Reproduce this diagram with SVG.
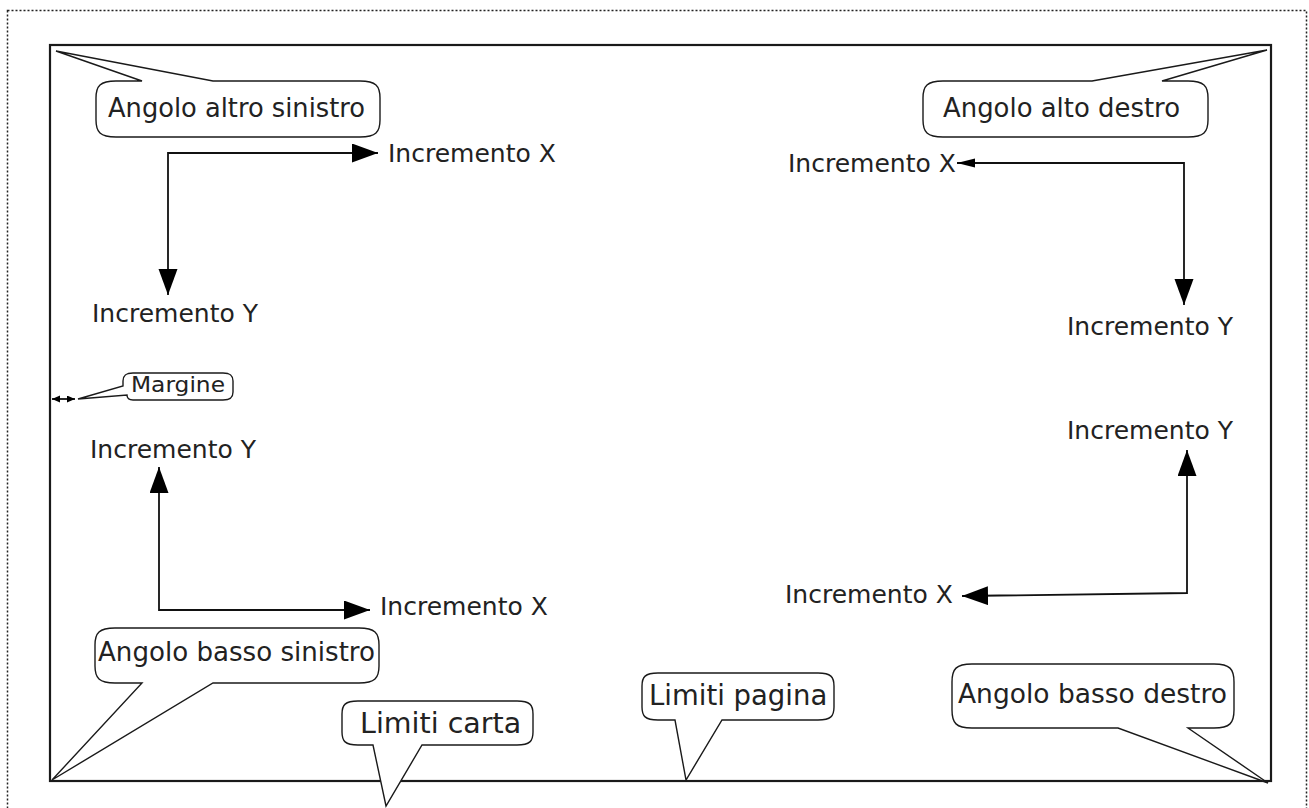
<svg xmlns="http://www.w3.org/2000/svg" width="1309" height="808" viewBox="0 0 1309 808">
  <style>
    .lbl { font-family: "DejaVu Sans", "Liberation Sans", sans-serif; fill: #222; }
    .inc { font-size: 25px; }
    .bub { fill: #fff; stroke: #1a1a1a; stroke-width: 1.4; stroke-linejoin: miter; }
    .con { fill: none; stroke: #111; stroke-width: 1.8; }
  </style>
  <defs>
    <marker id="big" markerUnits="userSpaceOnUse" markerWidth="27" markerHeight="20" refX="26" refY="9.5" orient="auto-start-reverse" viewBox="0 0 27 20">
      <path d="M0,0 L26,9.5 L0,19 Z" fill="#000"/>
    </marker>
    <marker id="small" markerUnits="userSpaceOnUse" markerWidth="19" markerHeight="10" refX="18" refY="4.5" orient="auto-start-reverse" viewBox="0 0 19 10">
      <path d="M0,0 L18,4.5 L0,9 Z" fill="#000"/>
    </marker>
    <marker id="tiny" markerUnits="userSpaceOnUse" markerWidth="9" markerHeight="8" refX="8" refY="3.5" orient="auto-start-reverse" viewBox="0 0 9 8">
      <path d="M0,0 L8,3.5 L0,7 Z" fill="#000"/>
    </marker>
  </defs>

  <rect x="0" y="0" width="1309" height="808" fill="#fff"/>

  <!-- paper limits (dotted) -->
  <rect id="paper" x="7.5" y="10.5" width="1299" height="820" fill="none" stroke="#222" stroke-width="1.5" stroke-dasharray="2,2"/>

  <!-- page limits -->
  <rect id="page" x="50" y="45" width="1221" height="736" fill="none" stroke="#1a1a1a" stroke-width="2.2"/>

  <!-- connectors -->
  <g id="connectors">
    <path class="con" d="M168,295 V153 H378" marker-start="url(#big)" marker-end="url(#big)"/>
    <path class="con" d="M957,163 H1184 V305" marker-start="url(#small)" marker-end="url(#big)"/>
    <path class="con" d="M159,467 V610 H370" marker-start="url(#big)" marker-end="url(#big)"/>
    <path class="con" d="M1187,450 V593 L962,596" marker-start="url(#big)" marker-end="url(#big)"/>
    <path class="con" d="M52,399 H75" stroke-width="1.4" marker-start="url(#tiny)" marker-end="url(#tiny)"/>
  </g>

  <!-- increment labels -->
  <g id="labels">
    <text class="lbl inc" x="388" y="162">Incremento X</text>
    <text class="lbl inc" x="92" y="322">Incremento Y</text>
    <text class="lbl inc" x="788" y="172">Incremento X</text>
    <text class="lbl inc" x="1067" y="335">Incremento Y</text>
    <text class="lbl inc" x="90" y="458">Incremento Y</text>
    <text class="lbl inc" x="380" y="615">Incremento X</text>
    <text class="lbl inc" x="1067" y="439">Incremento Y</text>
    <text class="lbl inc" x="785" y="603">Incremento X</text>
  </g>

  <!-- callouts -->
  <g id="callout-top-left">
    <path class="bub" d="M116,81 H142 L56,51 L213,81 H360 C376,81 380,86 380,98 V120 C380,132 376,137 360,137 H116 C100,137 96,132 96,120 V98 C96,86 100,81 116,81 Z"/>
    <text class="lbl" x="108" y="117" font-size="26" textLength="257" lengthAdjust="spacingAndGlyphs">Angolo altro sinistro</text>
  </g>

  <g id="callout-top-right">
    <path class="bub" d="M943,81 H1092 L1267,50 L1162,81 H1188 C1204,81 1208,86 1208,98 V120 C1208,132 1204,137 1188,137 H943 C927,137 923,132 923,120 V98 C923,86 927,81 943,81 Z"/>
    <text class="lbl" x="943" y="117" font-size="26" textLength="237" lengthAdjust="spacingAndGlyphs">Angolo alto destro</text>
  </g>

  <g id="callout-margin">
    <path class="bub" d="M133,373 H223 C231,373 233,376 233,381 V392 C233,397 231,400 223,400 H133 C128,400 127,398 127,395 L78,399 L123,386 V381 C123,376 125,373 133,373 Z"/>
    <text class="lbl" x="131" y="392" font-size="22" textLength="94" lengthAdjust="spacingAndGlyphs">Margine</text>
  </g>

  <g id="callout-bottom-left">
    <path class="bub" d="M115,628 H359 C375,628 379,633 379,645 V666 C379,678 375,683 359,683 H213 L52,780 L142,683 H115 C99,683 95,678 95,666 V645 C95,633 99,628 115,628 Z"/>
    <text class="lbl" x="98" y="661" font-size="26" textLength="277" lengthAdjust="spacingAndGlyphs">Angolo basso sinistro</text>
  </g>

  <g id="callout-limiti-carta">
    <path class="bub" d="M358,701 H517 C530,701 533,705 533,714 V732 C533,741 530,745 517,745 H422 L386,806 L373,745 H358 C345,745 342,741 342,732 V714 C342,705 345,701 358,701 Z"/>
    <text class="lbl" x="360" y="733" font-size="28.5">Limiti carta</text>
  </g>

  <g id="callout-limiti-pagina">
    <path class="bub" d="M658,673 H818 C831,673 834,677 834,686 V707 C834,716 831,720 818,720 H722 L686,780 L675,720 H658 C645,720 642,716 642,707 V686 C642,677 645,673 658,673 Z"/>
    <text class="lbl" x="649" y="705" font-size="27.5">Limiti pagina</text>
  </g>

  <g id="callout-bottom-right">
    <path class="bub" d="M972,664 H1214 C1230,664 1234,669 1234,682 V710 C1234,723 1230,728 1214,728 H1188 L1268,783 L1118,728 H972 C956,728 952,723 952,710 V682 C952,669 956,664 972,664 Z"/>
    <text class="lbl" x="958" y="703" font-size="26" textLength="269" lengthAdjust="spacingAndGlyphs">Angolo basso destro</text>
  </g>
</svg>
